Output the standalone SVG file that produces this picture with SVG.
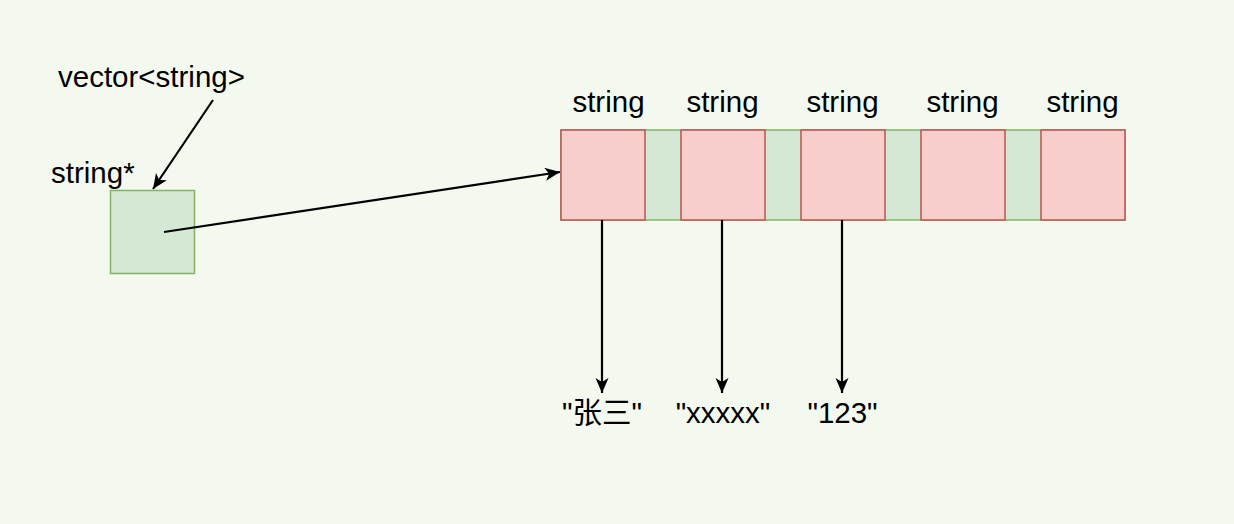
<svg xmlns="http://www.w3.org/2000/svg" width="1234" height="524" viewBox="0 0 1234 524">
  <style>
    .t { font-family: "Liberation Sans", Arial, "Noto Sans CJK SC", sans-serif; font-size: 29.5px; fill: #000; }
    .g { fill: #d5e8d4; stroke: #82b366; stroke-width: 1.5; }
    .r { fill: #f8cecc; stroke: #b85450; stroke-width: 1.5; }
    .e { stroke: #000; stroke-width: 2.2; fill: none; marker-end: url(#arr); }
  </style>
  <defs>
    <marker id="arr" markerUnits="userSpaceOnUse" markerWidth="16" markerHeight="14" refX="15" refY="6.5" orient="auto" viewBox="0 0 16 14">
      <path d="M0,0 L15,6.5 L0,13 L4,6.5 Z" fill="#000"/>
    </marker>
  </defs>
  <rect width="1234" height="524" fill="#f3f9ef"/>

  <g id="label-vector"><text class="t" x="58" y="87">vector&lt;string&gt;</text></g>
  <g id="label-ptr"><text class="t" x="51" y="183">string*</text></g>
  <g id="ptr"><rect class="g" x="110.5" y="190.5" width="84" height="83"/></g>

  <g id="array">
    <rect class="g" x="561" y="130" width="564" height="90"/>
  </g>
  <g id="s1"><rect class="r" x="561" y="130" width="84" height="90"/><text class="t" x="608.5" y="112" text-anchor="middle">string</text></g>
  <g id="s2"><rect class="r" x="681" y="130" width="84" height="90"/><text class="t" x="722.5" y="112" text-anchor="middle">string</text></g>
  <g id="s3"><rect class="r" x="801" y="130" width="84" height="90"/><text class="t" x="842.5" y="112" text-anchor="middle">string</text></g>
  <g id="s4"><rect class="r" x="921" y="130" width="84" height="90"/><text class="t" x="962.5" y="112" text-anchor="middle">string</text></g>
  <g id="s5"><rect class="r" x="1041" y="130" width="84" height="90"/><text class="t" x="1082.5" y="112" text-anchor="middle">string</text></g>

  <g id="v1"><text class="t" x="602" y="423" text-anchor="middle">"张三"</text></g>
  <g id="v2"><text class="t" x="723" y="423" text-anchor="middle">"xxxxx"</text></g>
  <g id="v3"><text class="t" x="842.5" y="423" text-anchor="middle">"123"</text></g>

  <g id="connectors">
    <line class="e" x1="213" y1="100" x2="153" y2="189"/>
    <line class="e" x1="164" y1="232" x2="560" y2="172"/>
    <line class="e" x1="602" y1="220" x2="602" y2="393"/>
    <line class="e" x1="722" y1="220" x2="722" y2="393"/>
    <line class="e" x1="842" y1="220" x2="842" y2="393"/>
  </g>
</svg>
